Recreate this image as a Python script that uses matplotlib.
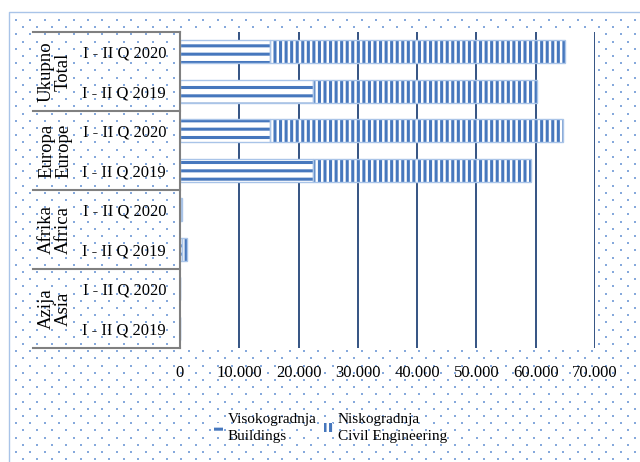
import numpy as np
import matplotlib
matplotlib.use("Agg")
import matplotlib.pyplot as plt

# ---- data ----
groups = ["Ukupno\nTotal", "Europa\nEurope", "Afrika\nAfrica", "Azija\nAsia"]
periods = ["I - II Q 2020", "I - II Q 2019"]
buildings = [15200, 22400, 15200, 22400, 250, 400, 0, 0]
civil = [49700, 37900, 49450, 36750, 150, 750, 0, 0]
xticks = [0, 10000, 20000, 30000, 40000, 50000, 60000, 70000]
xtick_labels = ["0", "10.000", "20.000", "30.000", "40.000", "50.000", "60.000", "70.000"]
series_labels = ["Visokogradnja\nBuildings", "Niskogradnja\nCivil Engineering"]

plt.rcParams["font.family"] = ["Liberation Serif", "DejaVu Serif"]
plt.rcParams["hatch.linewidth"] = 2.2

DARK = "#4677bd"
LIGHT = "#a9c4e8"
GRID = "#24457a"
GRAY = "#808080"
DOT = "#86a9dc"

W, H = 640, 462
fig = plt.figure(figsize=(W / 100, H / 100), dpi=100)

# background dotted pattern
bg = fig.add_axes([0, 0, 1, 1], zorder=-10)
bg.set_xlim(0, W)
bg.set_ylim(H, 0)
bg.axis("off")
step = 7.2
rows = np.arange(20, H + 5, step)
pts_x, pts_y = [], []
for k, yy in enumerate(rows):
    off = 16 if k % 2 == 0 else 23
    xs = np.arange(off, W + 5, 14.4)
    pts_x.extend(xs)
    pts_y.extend([yy] * len(xs))
bg.scatter(pts_x, pts_y, s=3.0, marker="s", color=DOT, linewidths=0)
bg.plot([9, 9, W + 10], [H + 10, 12, 12], color=LIGHT, lw=1.0)

# main axes
x0, x1, y0, y1 = 180, 595, 32, 348
ax = fig.add_axes([x0 / W, 1 - y1 / H, (x1 - x0) / W, (y1 - y0) / H])
ax.set_facecolor("white")
n = len(buildings)
pos = np.arange(n)
h = 0.58

b1 = ax.barh(pos, buildings, height=h, color="white", edgecolor=DARK, lw=0,
             hatch="--", zorder=2, label=series_labels[0])
ax.barh(pos, buildings, height=h, fill=False, edgecolor=LIGHT, lw=1.0, zorder=3)
b2 = ax.barh(pos, civil, left=buildings, height=h, color="white", edgecolor=DARK,
             lw=0, hatch="|||", zorder=2, label=series_labels[1])
ax.barh(pos, civil, left=buildings, height=h, fill=False, edgecolor=LIGHT, lw=1.0, zorder=3)

ax.set_xlim(0, 70000)
ax.set_ylim(n - 0.5, -0.5)
ax.set_xticks(xticks)
ax.set_xticklabels(xtick_labels, fontsize=12)
ax.set_yticks(pos)
ax.set_yticklabels([periods[i % 2] for i in pos], fontsize=12)
ax.tick_params(axis="both", length=0)
ax.tick_params(axis="x", pad=12)
ax.tick_params(axis="y", pad=10)
ax.set_axisbelow(True)
ax.grid(axis="x", color=GRID, lw=1.3)
ax.grid(axis="y", visible=False)
for s in ["top", "right", "bottom"]:
    ax.spines[s].set_visible(False)
ax.spines["left"].set_color(GRAY)
ax.spines["left"].set_linewidth(1.5)
ax.spines["left"].set_zorder(4)

# category group separators and labels
tr = ax.get_yaxis_transform()
left_frac = (33 - x0) / (x1 - x0)
bounds = np.arange(-0.5, n, 2)
for yb in bounds:
    ax.plot([left_frac, 0], [yb, yb], transform=tr, color=GRAY, lw=1.5, clip_on=False)
gx = (55 - x0) / (x1 - x0)
for i, g in enumerate(groups):
    ax.text(gx, 2 * i + 0.5, g, transform=tr, rotation=90, ha="center", va="center",
            fontsize=13.5, linespacing=1.0, multialignment="center")

leg = fig.legend(handles=[b1, b2], labels=series_labels, loc="upper left",
                 bbox_to_anchor=(214 / W, 1 - 413 / H), ncol=2, frameon=False,
                 fontsize=11, handlelength=0.6, handleheight=0.5, handletextpad=0.3,
                 columnspacing=0.5, borderpad=0, borderaxespad=0, labelspacing=0.2)
for t in leg.get_texts():
    t.set_linespacing(1.4)

fig.savefig("out.png", dpi=100)
